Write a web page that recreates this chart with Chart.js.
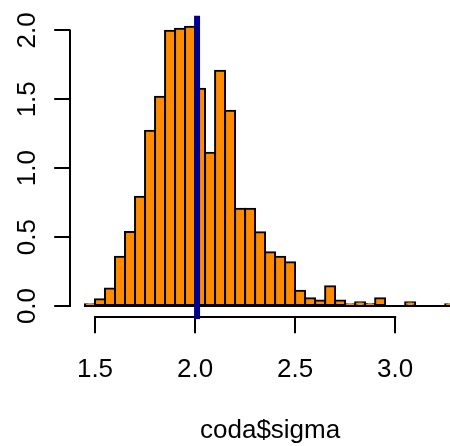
<!DOCTYPE html>
<html>
<head>
<meta charset="utf-8">
<script src="https://cdn.jsdelivr.net/npm/chart.js@4/dist/chart.umd.min.js"></script>
<style>
  html, body { margin: 0; padding: 0; background: #fff; overflow: hidden; }
  #wrap { width: 450px; height: 446px; overflow: hidden; }
</style>
</head>
<body>
<div id="wrap"><canvas id="c" width="470" height="446"></canvas></div>
<script>
// Histogram of posterior draws of sigma (density scale, bin width 0.05)
const binMids = [
  1.475, 1.525, 1.575, 1.625, 1.675, 1.725, 1.775, 1.825, 1.875, 1.925,
  1.975, 2.025, 2.075, 2.125, 2.175, 2.225, 2.275, 2.325, 2.375, 2.425,
  2.475, 2.525, 2.575, 2.625, 2.675, 2.725, 2.775, 2.825, 2.875, 2.925,
  2.975, 3.025, 3.075, 3.125, 3.175, 3.225, 3.275
];
const density = [
  0.012, 0.050, 0.128, 0.358, 0.537, 0.793, 1.272, 1.519, 1.998, 2.012,
  2.027, 1.577, 1.112, 1.707, 1.417, 0.706, 0.706, 0.535, 0.390, 0.358,
  0.317, 0.111, 0.056, 0.041, 0.143, 0.041, 0.012, 0.027, 0.014, 0.056,
  0.000, 0.000, 0.027, 0.000, 0.000, 0.000, 0.012
];
const breaksRange = [1.45, 3.30];
const xTicks = [1.5, 2.0, 2.5, 3.0];
const yTicks = [0, 0.5, 1.0, 1.5, 2.0];
const sigmaMean = 2.01;
const xLabel = 'coda$sigma';

const FONT = { family: "'Liberation Sans', Arial, Helvetica, sans-serif", size: 26 };

// R-style 4% range extension
const xPad = (breaksRange[1] - breaksRange[0]) * 0.04;
const yMaxData = Math.max(...density);
const yPad = yMaxData * 0.04;

const overlay = {
  id: 'overlay',
  afterDatasetsDraw(chart) {
    const { ctx, chartArea: a, scales: { x, y } } = chart;
    ctx.save();
    ctx.strokeStyle = '#000';
    ctx.lineWidth = 2;
    ctx.lineCap = 'butt';

    // bottom edge of the bins
    const y0 = y.getPixelForValue(0);
    ctx.beginPath();
    ctx.moveTo(x.getPixelForValue(breaksRange[0]) - 1, y0);
    ctx.lineTo(x.getPixelForValue(breaksRange[1]) + 1, y0);
    ctx.stroke();

    // axis lines spanning first to last tick
    const xb = Math.round(a.bottom);
    ctx.beginPath();
    ctx.moveTo(x.getPixelForValue(xTicks[0]) - 1, xb);
    ctx.lineTo(x.getPixelForValue(xTicks[xTicks.length - 1]) + 1, xb);
    ctx.stroke();
    const yl = Math.round(a.left);
    ctx.beginPath();
    ctx.moveTo(yl, y.getPixelForValue(yTicks[0]) + 1);
    ctx.lineTo(yl, y.getPixelForValue(yTicks[yTicks.length - 1]) - 1);
    ctx.stroke();

    // rotated y tick labels
    ctx.fillStyle = '#000';
    ctx.font = `${FONT.size}px ${FONT.family}`;
    ctx.textAlign = 'center';
    ctx.textBaseline = 'alphabetic';
    yTicks.forEach(v => {
      ctx.save();
      ctx.translate(34.5, y.getPixelForValue(v));
      ctx.rotate(-Math.PI / 2);
      ctx.fillText(v.toFixed(1), 0, 0);
      ctx.restore();
    });

    // posterior mean
    ctx.beginPath();
    ctx.rect(a.left, a.top, a.right - a.left, a.bottom - a.top + 2);
    ctx.clip();
    ctx.strokeStyle = '#00008B';
    ctx.lineWidth = 6;
    const xm = x.getPixelForValue(sigmaMean);
    ctx.beginPath();
    ctx.moveTo(xm, a.top);
    ctx.lineTo(xm, a.bottom + 2);
    ctx.stroke();
    ctx.restore();
  }
};

new Chart(document.getElementById('c'), {
  type: 'bar',
  data: {
    datasets: [{
      data: binMids.map((m, i) => ({ x: m, y: density[i] })),
      backgroundColor: '#FF8C00',
      borderColor: '#000',
      borderWidth: 2,
      borderSkipped: false,
      inflateAmount: 1,
      barPercentage: 1,
      categoryPercentage: 1
    }]
  },
  options: {
    responsive: false,
    animation: false,
    devicePixelRatio: 1,
    layout: { padding: { top: 15.5, left: 0, right: 0, bottom: 0 } },
    plugins: { legend: { display: false }, tooltip: { enabled: false } },
    scales: {
      x: {
        type: 'linear',
        offset: false,
        min: breaksRange[0] - xPad,
        max: breaksRange[1] + xPad,
        afterBuildTicks: s => { s.ticks = xTicks.map(v => ({ value: v })); },
        afterFit: s => { s.height = 128.8; },
        grid: { offset: false, drawOnChartArea: false, drawTicks: true, tickLength: 16, color: '#000', lineWidth: 2 },
        border: { display: false },
        ticks: { font: FONT, color: '#000', padding: 21, maxRotation: 0, autoSkip: false,
                 callback: v => Number(v).toFixed(1) },
        title: { display: true, text: xLabel, font: FONT, color: '#000', padding: { top: 0, bottom: 0 } }
      },
      y: {
        min: -yPad,
        max: yMaxData + yPad,
        afterBuildTicks: s => { s.ticks = yTicks.map(v => ({ value: v })); },
        afterFit: s => { s.width = 70.2; },
        grid: { drawOnChartArea: false, drawTicks: true, tickLength: 16, color: '#000', lineWidth: 2 },
        border: { display: false },
        ticks: { display: false }
      }
    }
  },
  plugins: [overlay]
});
</script>
</body>
</html>
